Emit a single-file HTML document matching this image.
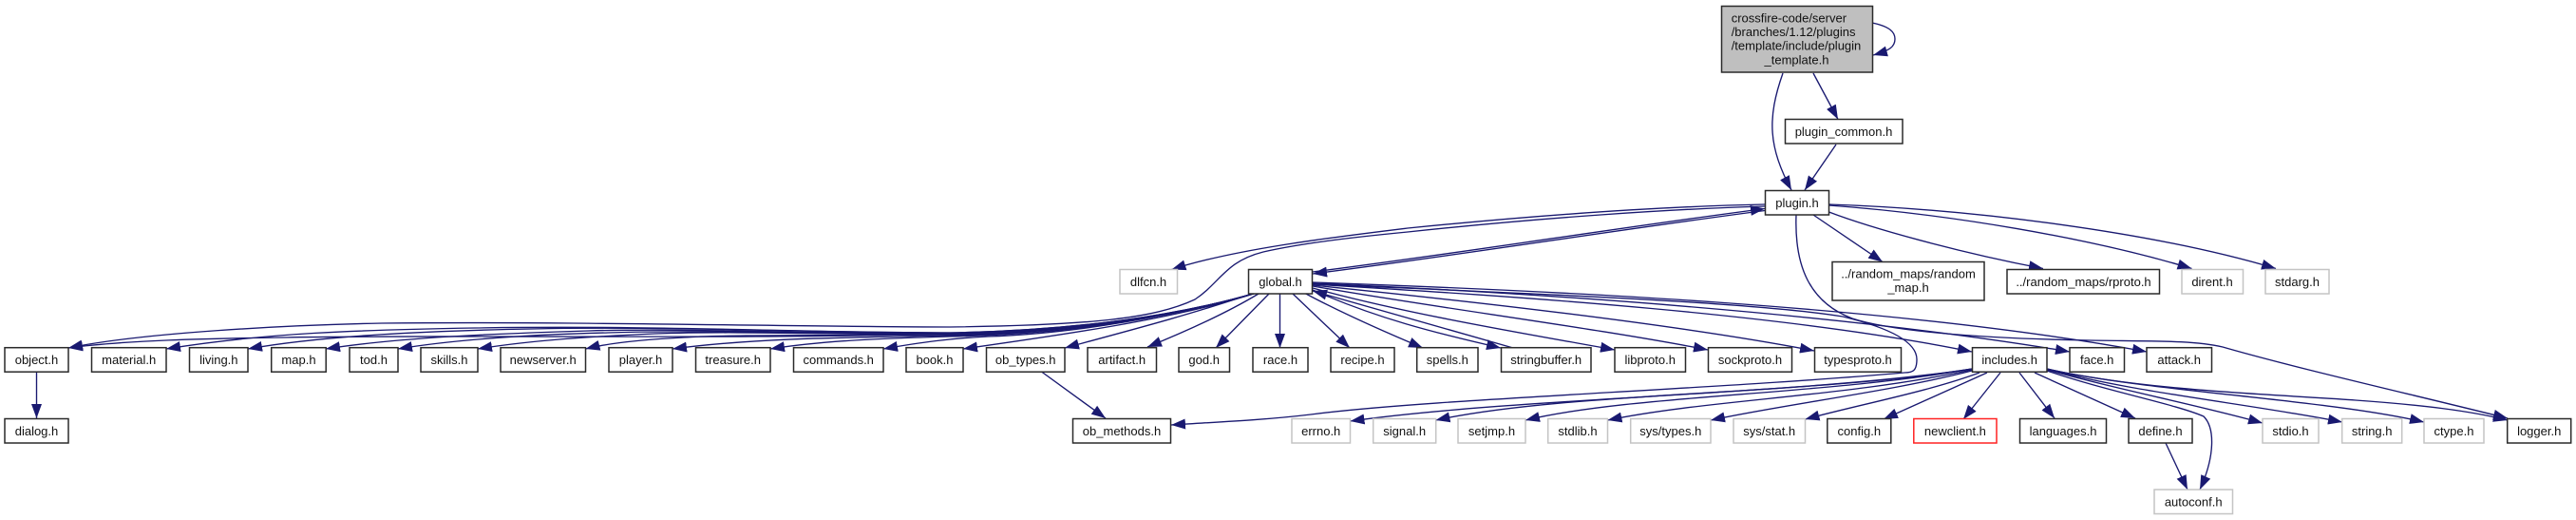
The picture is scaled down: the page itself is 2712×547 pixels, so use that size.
<!DOCTYPE html>
<html><head><meta charset="utf-8"><style>
html,body{margin:0;padding:0;background:#fff;width:2712px;height:547px;overflow:hidden}
svg{display:block}
text{font-family:"Liberation Sans",sans-serif;font-size:13px;fill:#111;text-anchor:middle}
.n{fill:#fff;stroke:#2a2a2a;stroke-width:1.5}
.g{fill:#fff;stroke:#c4c4c4;stroke-width:1.5}
.e{fill:none;stroke:#191970;stroke-width:1.35;marker-end:url(#a)}
</style></head><body>
<svg xmlns="http://www.w3.org/2000/svg" width="2712" height="547" viewBox="0 0 2712 547">
<defs><marker id="a" markerUnits="userSpaceOnUse" markerWidth="16" markerHeight="13" refX="15" refY="6" orient="auto"><path d="M0,0.5L15,6L0,11.5Z" fill="#191970"/></marker></defs>

<!-- edges -->
<g>
<path class="e" d="M1971,24C1990,28 1995,34 1995,41C1995,49 1990,53 1972,58"/>
<path class="e" d="M1877,77C1860,125 1862,155 1886,200"/>
<path class="e" d="M1909,77L1935,125.5"/>
<path class="e" d="M1933,152L1900,200"/>
<path class="e" d="M1858,215C1757,217 1623,226 1482,240C1400,250 1300,262 1233.500,283.500"/>
<path class="e" d="M1858,217C1757,220 1623,229 1482,244C1420,250 1370,256 1330,265C1290,275 1285,297 1258,315C1215,335 1150,342 1000,344C850,344 620,338 402,340C300,342 150,350 72,366"/>
<path class="e" d="M1382,286C1540,266 1700,240 1858,219.500"/>
<path class="e" d="M1858,221.500C1700,242 1540,268 1382,288"/>

<path class="e" d="M1323,308C1240,332 1130,350 1000,351C800,357 450,352 300,355C220,356 130,358 72,366"/>
<path class="e" d="M1323,308C1240,332 1130,348 1000,350C850,350 700,342 500,345C380,347 280,350 175,367"/>
<path class="e" d="M1323,308C1240,332 1130,348 1000,350C850,350 700,343 560,346C450,348 340,353 261,367"/>
<path class="e" d="M1323,308C1240,332 1130,349 1000,351C850,351 720,345 620,348C520,351 420,355 343,367"/>
<path class="e" d="M1323,308C1240,332 1130,349 1000,351C850,351 740,347 640,350C560,352 480,357 419,367"/>
<path class="e" d="M1323,308C1240,332 1130,350 1000,352C880,352 780,348 690,351C620,354 560,358 503,367"/>
<path class="e" d="M1323,308C1240,332 1130,350 1000,352C880,353 760,352 720,355C680,357 640,361 616.500,367"/>
<path class="e" d="M1323,308C1240,332 1130,350 1000,353C900,355 800,355 708,367"/>
<path class="e" d="M1323,308C1240,332 1130,352 1000,354C930,356 870,358 811,367"/>
<path class="e" d="M1323,308C1240,332 1130,351 1040,354C1000,356 970,360 930,367"/>
<path class="e" d="M1323,308C1240,335 1120,352 1014,367"/>
<path class="e" d="M1318,309C1250,332 1180,350 1121,366"/>
<path class="e" d="M1325,309C1290,330 1250,348 1208,365"/>
<path class="e" d="M1336,309L1280,366"/>
<path class="e" d="M1347.500,309L1347.500,366"/>
<path class="e" d="M1361,309L1421,366"/>
<path class="e" d="M1373,308C1410,328 1455,348 1498,366"/>
<path class="e" d="M1382,305C1450,335 1510,350 1580,366"/>
<path class="e" d="M1593,366C1520,345 1450,325 1382,306"/>
<path class="e" d="M1382,303C1480,330 1600,350 1700,368"/>
<path class="e" d="M1382,301C1520,325 1680,345 1798,368"/>
<path class="e" d="M1382,300C1560,318 1770,342 1910,369"/>
<path class="e" d="M1382,299C1600,312 1880,330 2076,370"/>
<path class="e" d="M1382,298C1620,308 1940,330 2179,370"/>
<path class="e" d="M1382,297C1640,306 2000,322 2260,370"/>
<path class="e" d="M1382,299C1600,308 1850,318 1940,333C1990,345 2018,360 2018,378C2018,390 2014,392 2005,392C1800,410 1500,420 1380,436C1330,442 1280,444 1233,447"/>

<path class="e" d="M1891,226C1889,280 1905,318 1950,335C1990,348 2080,356 2200,358C2270,359 2310,358 2340,365C2420,388 2540,415 2640,440"/>
<path class="e" d="M1909,226L1982,275.500"/>
<path class="e" d="M1925.500,223C1970,240 2060,265 2151,282.500"/>
<path class="e" d="M1925.500,216C2050,225 2200,250 2307.500,282.500"/>
<path class="e" d="M1925.500,215C2080,220 2270,245 2396,282.500"/>

<path class="e" d="M38.500,391L38.500,440"/>
<path class="e" d="M1096.500,391L1164,440"/>

<path class="e" d="M2076,388C1900,415 1600,418 1421.500,443"/>
<path class="e" d="M2076,388C1900,416 1650,412 1511.500,442"/>
<path class="e" d="M2076,388C1920,416 1720,415 1606,442"/>
<path class="e" d="M2076,389C1940,418 1800,420 1692.500,442"/>
<path class="e" d="M2076,390C1990,412 1880,425 1801,442"/>
<path class="e" d="M2084,392C2030,412 1960,425 1900.500,441"/>
<path class="e" d="M2092,392L1983,441"/>
<path class="e" d="M2106,392L2067,441"/>
<path class="e" d="M2126,392L2163,440"/>
<path class="e" d="M2142,392L2248,440"/>
<path class="e" d="M2155,390C2220,412 2290,425 2320,438C2332,450 2332,480 2316,515"/>
<path class="e" d="M2280,466L2303,515"/>
<path class="e" d="M2155,389C2230,410 2310,425 2382,445"/>
<path class="e" d="M2155,388C2240,412 2370,425 2466,444"/>
<path class="e" d="M2155,388C2260,412 2450,420 2552,444"/>
<path class="e" d="M2155,388C2260,412 2420,416 2480,421C2550,426 2600,432 2640,442"/>
</g>

<!-- nodes -->
<g>
<rect x="1812.500" y="6.500" width="159" height="69.500" style="fill:#bfbfbf;stroke:#2a2a2a;stroke-width:1.500"/>
<text x="1822.700" y="23.500" style="text-anchor:start">crossfire-code/server</text>
<text x="1822.700" y="38" style="text-anchor:start">/branches/1.12/plugins</text>
<text x="1822.700" y="52.700" style="text-anchor:start">/template/include/plugin</text>
<text x="1891.500" y="67.300">_template.h</text>

<rect class="n" x="1879.500" y="125.500" width="123.500" height="25.500"/><text x="1941" y="143">plugin_common.h</text>
<rect class="n" x="1858.500" y="200.500" width="67" height="25.500"/><text x="1892" y="218">plugin.h</text>

<rect class="g" x="1179" y="283.500" width="60.500" height="25.500"/><text x="1209" y="301">dlfcn.h</text>
<rect class="n" x="1314.500" y="283.500" width="67" height="25.500"/><text x="1348" y="301">global.h</text>
<rect class="n" x="1929" y="275.500" width="160" height="40.500"/><text x="2009" y="292.500">../random_maps/random</text><text x="2009" y="307">_map.h</text>
<rect class="n" x="2113" y="283.500" width="160.500" height="25.500"/><text x="2193.500" y="301">../random_maps/rproto.h</text>
<rect class="g" x="2297" y="283.500" width="64.500" height="25.500"/><text x="2329" y="301">dirent.h</text>
<rect class="g" x="2385" y="283.500" width="67" height="25.500"/><text x="2418.500" y="301">stdarg.h</text>

<rect class="n" x="5" y="365.700" width="67" height="25.500"/><text x="38.500" y="383">object.h</text>
<rect class="n" x="96.500" y="365.700" width="78.500" height="25.500"/><text x="135.700" y="383">material.h</text>
<rect class="n" x="199.500" y="365.700" width="61.500" height="25.500"/><text x="230.300" y="383">living.h</text>
<rect class="n" x="285.700" y="365.700" width="57.500" height="25.500"/><text x="314.500" y="383">map.h</text>
<rect class="n" x="368" y="365.700" width="51" height="25.500"/><text x="393.500" y="383">tod.h</text>
<rect class="n" x="443" y="365.700" width="60" height="25.500"/><text x="473" y="383">skills.h</text>
<rect class="n" x="527" y="365.700" width="89.500" height="25.500"/><text x="571.700" y="383">newserver.h</text>
<rect class="n" x="641" y="365.700" width="67" height="25.500"/><text x="674.500" y="383">player.h</text>
<rect class="n" x="732.500" y="365.700" width="78.500" height="25.500"/><text x="771.700" y="383">treasure.h</text>
<rect class="n" x="835.500" y="365.700" width="94.500" height="25.500"/><text x="882.700" y="383">commands.h</text>
<rect class="n" x="954" y="365.700" width="60" height="25.500"/><text x="984" y="383">book.h</text>
<rect class="n" x="1038.500" y="365.700" width="82.500" height="25.500"/><text x="1079.700" y="383">ob_types.h</text>
<rect class="n" x="1145" y="365.700" width="72.500" height="25.500"/><text x="1181.200" y="383">artifact.h</text>
<rect class="n" x="1241" y="365.700" width="53.500" height="25.500"/><text x="1267.700" y="383">god.h</text>
<rect class="n" x="1319" y="365.700" width="58" height="25.500"/><text x="1348" y="383">race.h</text>
<rect class="n" x="1401" y="365.700" width="67" height="25.500"/><text x="1434.500" y="383">recipe.h</text>
<rect class="n" x="1491.700" y="365.700" width="64.300" height="25.500"/><text x="1523.800" y="383">spells.h</text>
<rect class="n" x="1580.500" y="365.700" width="94.500" height="25.500"/><text x="1627.700" y="383">stringbuffer.h</text>
<rect class="n" x="1700" y="365.700" width="74.500" height="25.500"/><text x="1737.200" y="383">libproto.h</text>
<rect class="n" x="1798.500" y="365.700" width="88" height="25.500"/><text x="1842.500" y="383">sockproto.h</text>
<rect class="n" x="1910.500" y="365.700" width="91" height="25.500"/><text x="1956" y="383">typesproto.h</text>
<rect class="n" x="2076.500" y="365.700" width="78.500" height="25.500"/><text x="2115.700" y="383">includes.h</text>
<rect class="n" x="2179" y="365.700" width="57.500" height="25.500"/><text x="2207.700" y="383">face.h</text>
<rect class="n" x="2260" y="365.700" width="68.500" height="25.500"/><text x="2294.200" y="383">attack.h</text>

<rect class="n" x="5" y="440.500" width="67" height="25.500"/><text x="38.500" y="458">dialog.h</text>
<rect class="n" x="1129.500" y="440.500" width="103" height="25.500"/><text x="1181" y="458">ob_methods.h</text>
<rect class="g" x="1360" y="440.500" width="61.500" height="25.500"/><text x="1390.700" y="458">errno.h</text>
<rect class="g" x="1445.700" y="440.500" width="66" height="25.500"/><text x="1478.700" y="458">signal.h</text>
<rect class="g" x="1535" y="440.500" width="71" height="25.500"/><text x="1570.500" y="458">setjmp.h</text>
<rect class="g" x="1629.700" y="440.500" width="62.800" height="25.500"/><text x="1661" y="458">stdlib.h</text>
<rect class="g" x="1716.700" y="440.500" width="84.300" height="25.500"/><text x="1758.800" y="458">sys/types.h</text>
<rect class="g" x="1825" y="440.500" width="75.500" height="25.500"/><text x="1862.700" y="458">sys/stat.h</text>
<rect class="n" x="1923.800" y="440.500" width="67" height="25.500"/><text x="1957.300" y="458">config.h</text>
<rect x="2014.800" y="440.500" width="87.200" height="25.500" style="fill:#fff;stroke:#f22;stroke-width:1.500"/><text x="2058.400" y="458">newclient.h</text>
<rect class="n" x="2126.500" y="440.500" width="91" height="25.500"/><text x="2172" y="458">languages.h</text>
<rect class="n" x="2241" y="440.500" width="67" height="25.500"/><text x="2274.500" y="458">define.h</text>
<rect class="g" x="2382" y="440.500" width="59" height="25.500"/><text x="2411.500" y="458">stdio.h</text>
<rect class="g" x="2465.700" y="440.500" width="63" height="25.500"/><text x="2497.200" y="458">string.h</text>
<rect class="g" x="2552" y="440.500" width="63" height="25.500"/><text x="2583.500" y="458">ctype.h</text>
<rect class="n" x="2639.700" y="440.500" width="67" height="25.500"/><text x="2673.200" y="458">logger.h</text>
<rect class="g" x="2268" y="515" width="82.500" height="25.500"/><text x="2309.200" y="532.500">autoconf.h</text>
</g>
</svg>
</body></html>
